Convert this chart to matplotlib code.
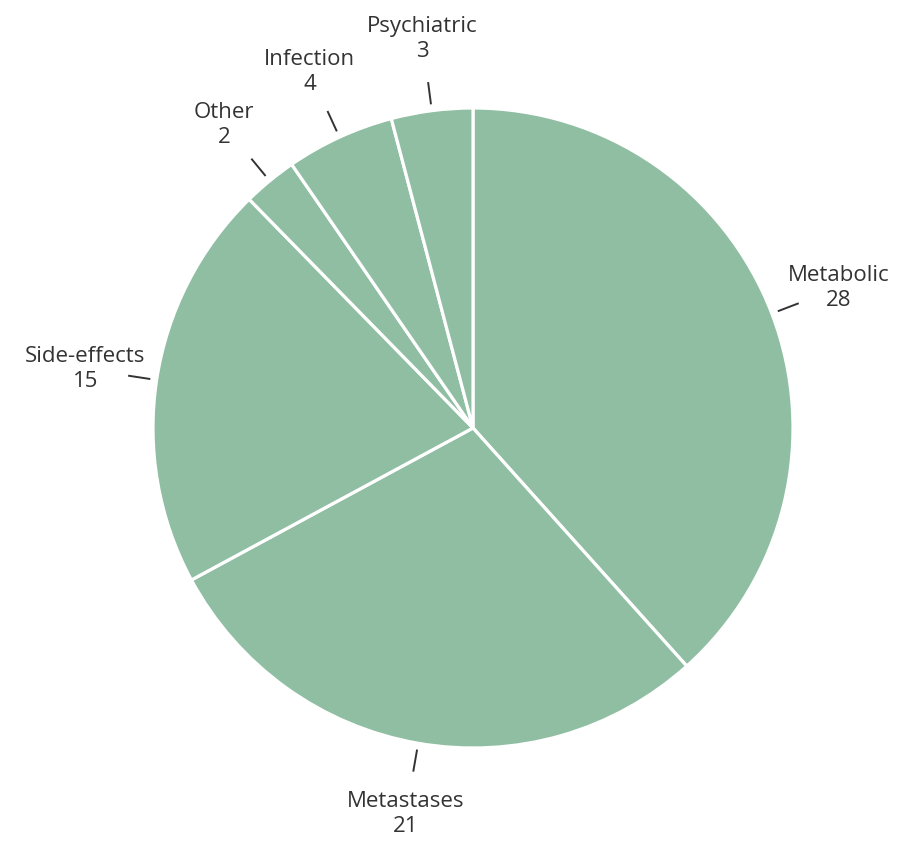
import matplotlib
matplotlib.use("Agg")
import matplotlib.pyplot as plt
import numpy as np

# --- data (clockwise from 12 o'clock) ---
causes = ["Metabolic", "Metastases", "Side-effects", "Other", "Infection", "Psychiatric"]
counts = [28, 21, 15, 2, 4, 3]

pie_color = "#8fbea3"
text_color = "#333333"

plt.rcParams['font.family'] = ['Open Sans', 'DejaVu Sans']

fig = plt.figure(figsize=(9.0, 8.41), dpi=100)
ax = fig.add_axes([0, 0, 1, 1])

wedges, _ = ax.pie(counts, startangle=90, counterclock=False, radius=1.0,
                   colors=[pie_color] * len(counts),
                   wedgeprops=dict(edgecolor="white", linewidth=2.3))

# short tick + two-line label at each wedge's mid angle
for w, name, n in zip(wedges, causes, counts):
    mid = np.deg2rad((w.theta1 + w.theta2) / 2)
    dx, dy = np.cos(mid), np.sin(mid)
    ax.plot([1.02 * dx, 1.09 * dx], [1.02 * dy, 1.09 * dy],
            color=text_color, lw=1.4, solid_capstyle="butt")
    ax.text(1.225 * dx, 1.225 * dy, f"{name}\n{n}", ha="center", va="center",
            fontsize=16, color=text_color, linespacing=1.25)

# place pie centre at ~(473, 428) px with radius ~320 px
ax.set_xlim(-473 / 320, (900 - 473) / 320)
ax.set_ylim(-(841 - 428) / 320, 428 / 320)
ax.axis("off")

plt.savefig("out.png", dpi=100)
